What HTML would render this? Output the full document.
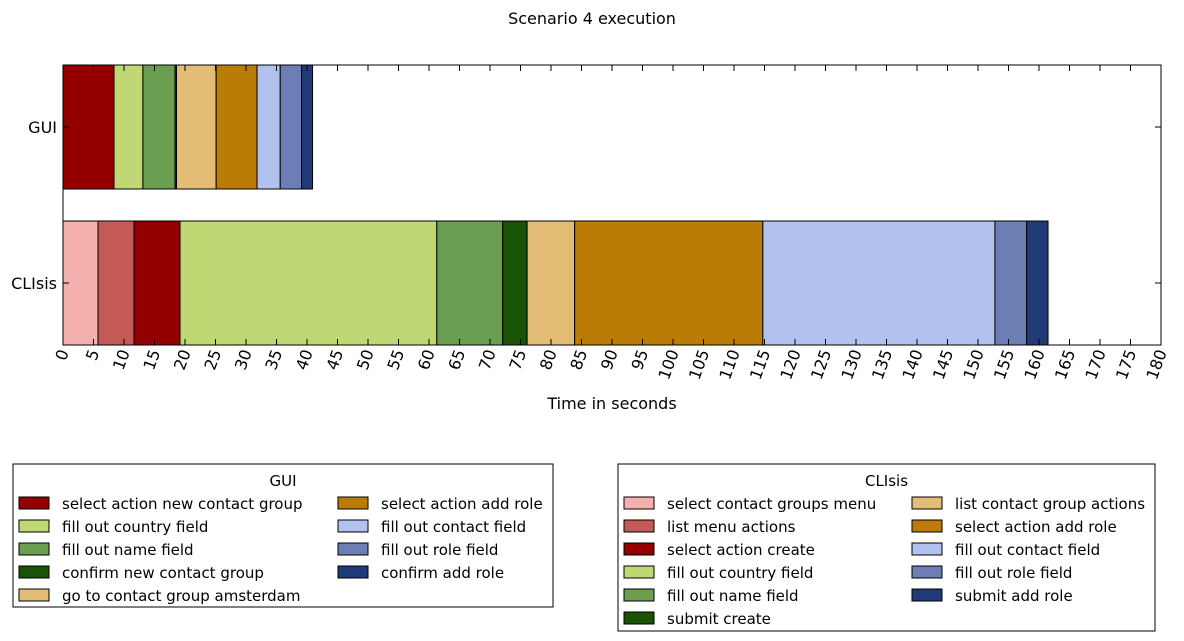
<!DOCTYPE html>
<html><head><meta charset="utf-8"><style>
body{margin:0;background:#fff;}
svg{display:block;font-family:"DejaVu Sans","Liberation Sans",sans-serif;}
</style></head><body>
<svg id="c" width="1184" height="641">
<text x="592" y="24" text-anchor="middle" font-size="16">Scenario 4 execution</text>
<g id="bars"></g>
<rect x="63" y="65" width="1098" height="280" fill="none" stroke="#000" stroke-width="1"/>
<g id="axis"></g>
<text x="612" y="409" text-anchor="middle" font-size="16">Time in seconds</text>
<g id="legends"></g>
</svg>
<script>
const guiTasks=["select action new contact group","fill out country field","fill out name field","confirm new contact group","go to contact group amsterdam","select action add role","fill out contact field","fill out role field","confirm add role"];
const guiDurations=[8.36,4.74,5.26,0.25,6.5,6.7,3.8,3.5,1.8];
const guiColors=["#940000","#bfd873","#6a9f52","#1a5206","#e3bc76","#bb7c07","#b2c2ee","#6b7fb4","#213a78"];
const cliTasks=["select contact groups menu","list menu actions","select action create","fill out country field","fill out name field","submit create","list contact group actions","select action add role","fill out contact field","fill out role field","submit add role"];
const cliDurations=[5.74,5.9,7.54,42.1,10.8,4.0,7.8,30.85,38.05,5.2,3.5];
const cliColors=["#f4b0ac","#c45a55","#940000","#bfd873","#6a9f52","#1a5206","#e3bc76","#bb7c07","#b2c2ee","#6b7fb4","#213a78"];
const xTicks=[0,5,10,15,20,25,30,35,40,45,50,55,60,65,70,75,80,85,90,95,100,105,110,115,120,125,130,135,140,145,150,155,160,165,170,175,180];
const rows=["GUI","CLIsis"];
const NS="http://www.w3.org/2000/svg";
const X0=63,X1=1161,XMAX=180;
function xs(v){return X0+(X1-X0)*v/XMAX;}
function mk(tag,attrs,parent){const e=document.createElementNS(NS,tag);for(const k in attrs)e.setAttribute(k,attrs[k]);parent.appendChild(e);return e;}
const bars=document.getElementById('bars');
function drawRow(durs,cols,y,h,nm){let t=0;durs.forEach((d,i)=>{const r=mk('rect',{x:xs(t),y:y,width:xs(t+d)-xs(t),height:h,fill:cols[i],stroke:'#000','stroke-width':1},bars);


t+=d;});}
drawRow(guiDurations,guiColors,65,124,'gui');
drawRow(cliDurations,cliColors,221,124,'clisis');
const ax=document.getElementById('axis');
[[127,"GUI"],[283,"CLIsis"]].forEach(([y,l])=>{
const t=mk('text',{x:57,y:y+6,'text-anchor':'end','font-size':16},ax);t.textContent=l;


mk('line',{x1:63,x2:69,y1:y,y2:y,stroke:'#000'},ax);mk('line',{x1:1155,x2:1161,y1:y,y2:y,stroke:'#000'},ax);});
xTicks.forEach(v=>{const x=xs(v);
mk('line',{x1:x,x2:x,y1:345,y2:339,stroke:'#000'},ax);mk('line',{x1:x,x2:x,y1:65,y2:71,stroke:'#000'},ax);
const t=mk('text',{x:0,y:0,'text-anchor':'end','font-size':16,transform:`translate(${x+6},${352}) rotate(-70)`},ax);t.textContent=v;

});
const lg=document.getElementById('legends');
function legend(title,tasks,cols,bx,bw,bh,split,c2,nm){
const g=mk('g',{},lg);


mk('rect',{x:bx,y:464,width:bw,height:bh,fill:'#fff',stroke:'#000'},g);
const t=mk('text',{x:bx+bw/2,y:486,'text-anchor':'middle','font-size':15},g);t.textContent=title;
tasks.forEach((s,i)=>{const col=i<split?0:1,row=i<split?i:i-split;const sx=bx+6+(col?c2:0),y=497+row*23;
mk('rect',{x:sx,y:y,width:30,height:12,fill:cols[i],stroke:'#000'},g);
const tt=mk('text',{x:sx+43,y:y+12,'font-size':15},g);tt.textContent=s;

});}
legend("GUI",guiTasks,guiColors,13,540,143,5,319,'gui-legend');
legend("CLIsis",cliTasks,cliColors,618,537,167,6,288,'clisis-legend');
</script>
</body></html>
